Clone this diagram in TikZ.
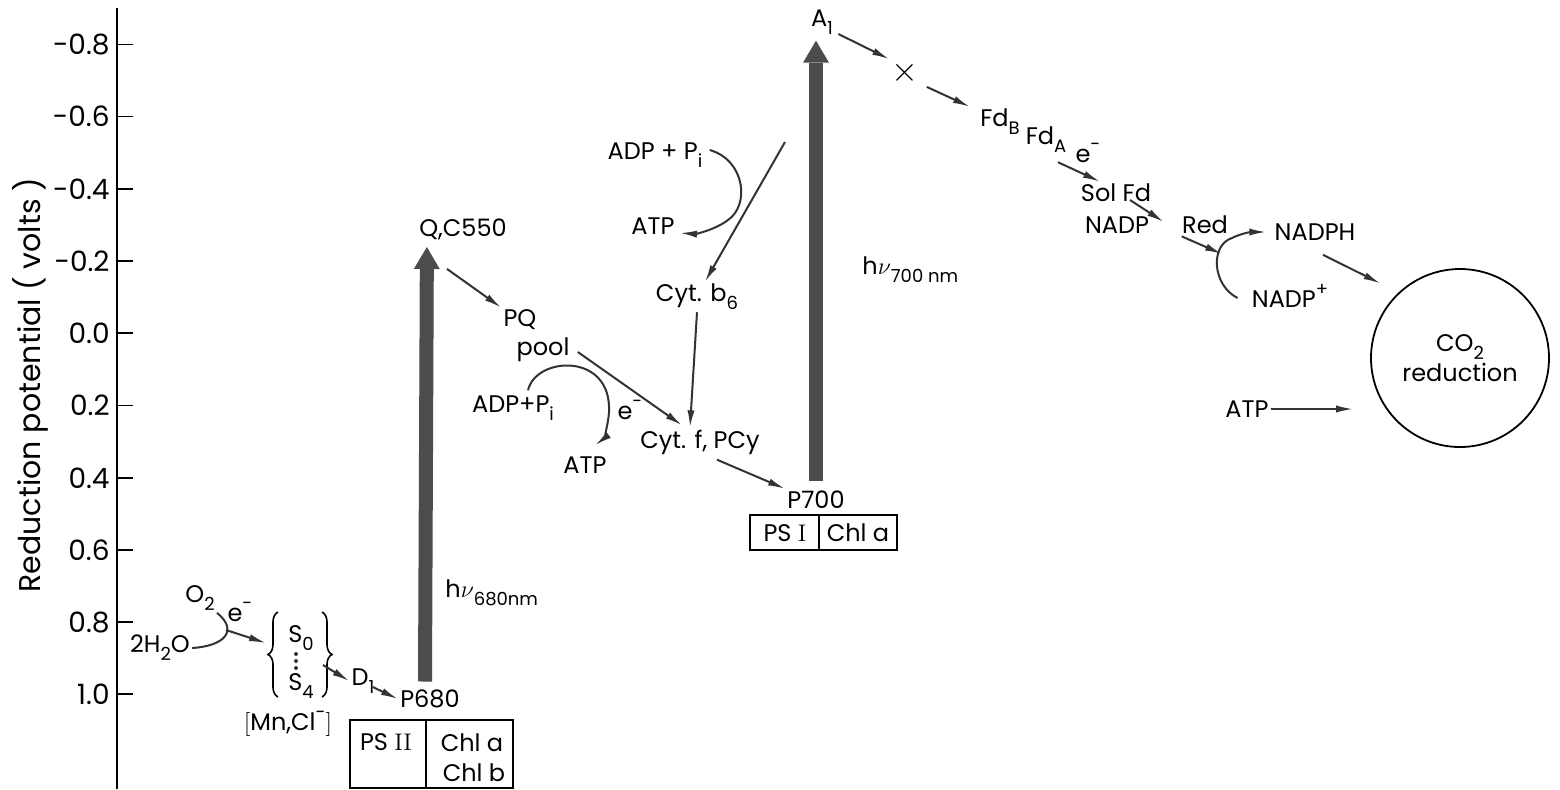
\documentclass[tikz,border=0pt]{standalone}
\usepackage{fontspec}
\setsansfont{Poppins}
\usetikzlibrary{arrows.meta,calc,decorations.pathreplacing}
\newcommand{\lo}[1]{\raisebox{-0.6ex}{\fontsize{9}{9}\selectfont #1}}
\newcommand{\hi}[1]{\raisebox{0.95ex}{\fontsize{9}{9}\selectfont #1}}
\tikzset{
  lbl/.style={inner sep=1pt},
  ticklbl/.style={anchor=east,inner sep=0pt,font=\sffamily\fontsize{14}{16}\selectfont},
  flow/.style={draw=black!80,line width=1pt,-{Latex[length=8.5pt,width=3.6pt]}},
  curv/.style={draw=black!80,line width=1pt},
  bigarrow/.style={draw=black!70,line width=7pt,-{Triangle[width=13pt,length=11pt,line width=0pt]}},
  cellbox/.style={draw,line width=0.9pt}
}
\begin{document}
\begin{tikzpicture}[x=0.5pt,y=-0.5pt,font=\sffamily\fontsize{12}{15}\selectfont,every node/.style={lbl}]
    \useasboundingbox(0,0)rectangle(1560,789);
    % potential axis
    \draw[line width=0.9pt](117,8)--(117,789);
    \draw[line width=0.9pt](117,44.5)--(133,44.5);
    \draw[line width=0.9pt](117,116.5)--(133,116.5);
    \draw[line width=0.9pt](117,189)--(133,189);
    \draw[line width=0.9pt](117,261)--(133,261);
    \draw[line width=0.9pt](117,333)--(133,333);
    \draw[line width=0.9pt](117,405.5)--(133,405.5);
    \draw[line width=0.9pt](117,478)--(133,478);
    \draw[line width=0.9pt](117,550)--(133,550);
    \draw[line width=0.9pt](117,622)--(133,622);
    \draw[line width=0.9pt](117,694)--(133,694);
    \node[ticklbl](tka) at(110,44.5){-0.8};
    \node[ticklbl](tkb) at(110,116.5){-0.6};
    \node[ticklbl](tkc) at(110,189){-0.4};
    \node[ticklbl](tkd) at(110,261){-0.2};
    \node[ticklbl](tke) at(110,333){0.0};
    \node[ticklbl](tkf) at(110,405.5){0.2};
    \node[ticklbl](tkg) at(110,478){0.4};
    \node[ticklbl](tkh) at(110,550){0.6};
    \node[ticklbl](tki) at(110,622){0.8};
    \node[ticklbl](tkj) at(110,694){1.0};
    \node[rotate=90,font=\sffamily\fontsize{15}{16}\selectfont](ylab) at(30,385){Reduction potential ( volts )};
    % photosystem II side
    \node(otwo) at(200,598){O\lo{2}};
    \node(water) at(160,648){2H\lo{2}O};
    \node(eone) at(240,612){e\hi{-}};
    \node(szero) at(301,638){S\lo{0}};
    \fill[black!80](296,654)circle(2);
    \fill[black!80](296,661)circle(2);
    \fill[black!80](296,668)circle(2);
    \node(sfour) at(301,686){S\lo{4}};
    \draw[decorate,decoration={brace,amplitude=5pt},line width=0.8pt](278,697)--(278,612);
    \draw[decorate,decoration={brace,amplitude=5pt},line width=0.8pt](322,612)--(322,697);
    \node(mncl) at(288,724){$\big[$Mn,Cl\hi{-}$\big]$};
    \node(done) at(363,681){D\lo{1}};
    \node(psix) at(430,699){P680};
    \draw[cellbox](350,720)rectangle(513,788);
    \draw[cellbox](426,720)--(426,788);
    \node(pstwo) at(386,742){PS \textrm{II}};
    \node(chla) at(472,743){Chl a};
    \node(chlb) at(474,773){Chl b};
    \node[anchor=west](hnua) at(443,593){h$\nu$\lo{680nm}};
    % between the two photosystems
    \node(qc) at(463,229){Q,C550};
    \node(pq) at(520,320){PQ};
    \node(pool) at(543,350){pool};
    \node(adpa) at(513,408){ADP+P\lo{i}};
    \node(atpa) at(585,465){ATP};
    \node(etwo) at(630,410){e\hi{-}};
    \node(cytf) at(700,442){Cyt. f, PCy};
    \node(cytb) at(697,297){Cyt. b\lo{6}};
    \node(adpb) at(655,155){ADP + P\lo{i}};
    \node(atpb) at(653,226){ATP};
    % photosystem I side
    \node(pseven) at(816,500){P700};
    \draw[cellbox](750,515)rectangle(897,550);
    \draw[cellbox](819,515)--(819,550);
    \node(psone) at(785,533){PS \textrm{I}};
    \node(chlc) at(858,533){Chl a};
    \node[anchor=west](hnub) at(860,270){h$\nu$\lo{700 nm}};
    \node(aone) at(822,22){A\lo{1}};
    \node[font=\fontsize{17}{17}\selectfont](xx) at(905,73){$\times$};
    \node(fdb) at(1000,122){Fd\lo{B}};
    \node(fda) at(1046,140){Fd\lo{A}};
    \node(ethree) at(1088,153){e\hi{-}};
    \node(solfd) at(1116,193){Sol Fd};
    \node(nadp) at(1117,225){NADP};
    \node(red) at(1205,225){Red};
    \node(nadph) at(1315,232){NADPH};
    \node(nadpp) at(1290,296){NADP\hi{+}};
    \node[draw,circle,line width=0.9pt,minimum size=89pt,align=center](cotwo) at(1460,358){CO\lo{2}\\reduction};
    \node(atpc) at(1247,409){ATP};
    % free ends
    \coordinate(eonefoot) at(226,630);
    \coordinate(sleft) at(266,643);
    \coordinate(sright) at(323,665);
    \coordinate(cycl) at(785,142);
    \coordinate(redfoot) at(1222,254);
    % electron flow
    \draw[curv](water.east)..controls +(32,-2) and +(22,18)..(otwo.south east);
    \draw[flow](eonefoot)--(sleft);
    \draw[flow](sright)--(done.west);
    \draw[flow]($(done.east)+(-4,6)$)--(psix.west);
    \draw[bigarrow]($(psix.north)+(-5,-6)$)--($(qc.west)+(10,18)$);
    \draw[flow]($(qc.south)+(-16,27)$)--(pq.north west);
    \draw[flow]($(pool.east)+(6,2)$)--($(cytf.north)+(-18,-2)$);
    \draw[flow]($(adpa.north)+(15,-3)$)..controls(536,356)and(612,352)..(609,412)..controls(608,428)and(602,440)..($(atpa.north)+(10,-9)$);
    \draw[flow](cytb.south)--($(cytf.north)+(-10,0)$);
    \draw[flow](cycl)--($(cytb.north)+(8,0)$);
    \draw[flow]($(adpb.east)+(5,-5)$)..controls(745,160)and(750,205)..(728,220)..controls(715,230)and(695,234)..($(atpb.east)+(3,7)$);
    \draw[flow]($(cytf.south)+(17,3)$)--(pseven.north west);
    \draw[bigarrow]($(pseven.north)+(0,-8)$)--($(aone.south)+(-6,4)$);
    \draw[flow]($(aone.east)+(3,12)$)--(xx.north west);
    \draw[flow]($(xx.south east)+(6,0)$)--($(fdb.north west)+(-8,0)$);
    \draw[flow]($(fda.south)+(12,7)$)--($(solfd.north)+(-16,0)$);
    \draw[flow]($(solfd.center)+(14,7)$)--($(red.west)+(-16,-3)$);
    \draw[flow]($(red.south west)+(2,0)$)--(redfoot);
    \draw[flow]($(nadpp.west)+(-12,2)$)..controls(1212,285)and(1210,245)..(1232,238)..controls(1240,234)and(1250,232)..($(nadph.west)+(-6,0)$);
    \draw[flow]($(nadph.south)+(8,12)$)--($(cotwo.north west)+(-16,-11)$);
    \draw[flow](atpc.east)--($(cotwo.west |- atpc.east)+(-17,0)$);
\end{tikzpicture}
\end{document}
